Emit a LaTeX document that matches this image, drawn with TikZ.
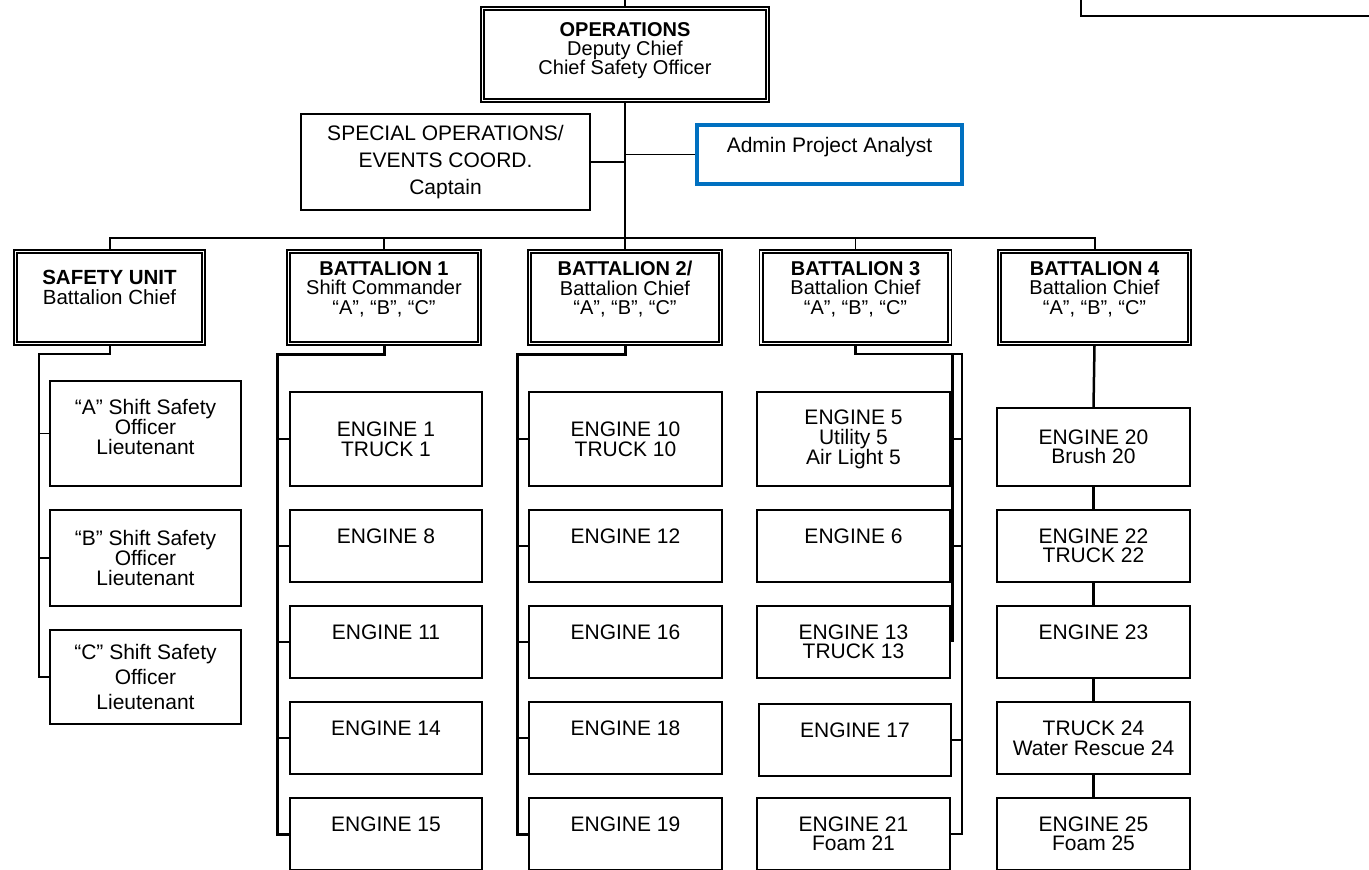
\documentclass[tikz,border=0pt]{standalone}
\usepackage{fontspec}
\setmainfont{Liberation Sans}
\newcommand\myfs{\fontsize{21}{20}\selectfont}
\definecolor{adminblue}{HTML}{0070C0}
\begin{document}
\begin{tikzpicture}[x=1pt,y=-1pt,
  cell/.style={draw, line width=1.3pt, inner sep=0pt, align=center, font=\myfs},
  hdr/.style={cell, line width=1.2pt, minimum height=95pt, font=\fontsize{20}{19.5}\selectfont},
  tick/.style={line width=1.5pt},
  lbus/.style={line width=2pt},
  lmain/.style={line width=2.5pt},
  lthick/.style={line width=3pt},
  inner/.style={line width=2pt}
]
\useasboundingbox (0,0) rectangle (1369,870);

% partial box at top right
\node[draw, line width=2pt, minimum width=400pt, minimum height=60pt, anchor=south west, inner sep=0pt] (note) at (1080,17) {};

% top level
\coordinate (top) at (625,0);
\coordinate (bus) at (0,238);
\node[hdr, minimum width=288pt, font=\fontsize{20}{19}\selectfont] (ops) at (625,54.5)
  {\textbf{OPERATIONS}\\Deputy Chief\\Chief Safety Officer\\[-7pt]\mbox{}};
\node[cell, minimum width=289pt, minimum height=96pt, font=\fontsize{21}{27}\selectfont] (spec) at (445.5,162)
  {SPECIAL OPERATIONS/\\EVENTS COORD.\\Captain};
\node[cell, draw=adminblue, line width=4pt, minimum width=265pt, minimum height=59pt] (admin) at (829.5,154.5)
  {Admin Project Analyst\\\mbox{}};

% headers
\node[hdr, minimum width=191pt, font=\fontsize{20.5}{20}\selectfont] (saf) at (109.5,297.5) {\textbf{SAFETY UNIT}\\Battalion Chief\\\mbox{}};
\node[hdr, minimum width=194pt] (bat1) at (384,297.5) {\textbf{BATTALION 1}\\Shift Commander\\“A”, “B”, “C”\\\mbox{}};
\node[hdr, minimum width=194pt] (bat2) at (625,297.5) {\textbf{BATTALION 2/}\\Battalion Chief\\“A”, “B”, “C”\\\mbox{}};
\node[hdr, minimum width=192pt] (bat3) at (855.5,297.5) {\textbf{BATTALION 3}\\Battalion Chief\\“A”, “B”, “C”\\\mbox{}};
\node[hdr, minimum width=193pt] (bat4) at (1094.5,297.5) {\textbf{BATTALION 4}\\Battalion Chief\\“A”, “B”, “C”\\\mbox{}};
\foreach \n in {ops,saf,bat1,bat2,bat3,bat4}
  \draw[inner] ([shift={(4,4)}]\n.north west) rectangle ([shift={(-4,-4)}]\n.south east);

% safety unit column
\node[cell, minimum width=191pt, minimum height=105pt, font=\fontsize{21}{20}\selectfont] (sA) at (145.5,433.5) {“A” Shift Safety\\Officer\\Lieutenant\\[-6pt]\mbox{}};
\node[cell, minimum width=191pt, minimum height=96pt] (sB) at (145.5,558) {“B” Shift Safety\\Officer\\Lieutenant};
\node[cell, minimum width=191pt, minimum height=94pt, font=\fontsize{21}{25}\selectfont] (sC) at (145.5,677) {“C” Shift Safety\\Officer\\Lieutenant};

% battalion 1 column
\node[cell, minimum width=192pt, minimum height=94pt] (b1r1) at (386,439) {ENGINE 1\\TRUCK 1};
\node[cell, minimum width=192pt, minimum height=72pt] (b1r2) at (386,546) {ENGINE 8\\\mbox{}};
\node[cell, minimum width=192pt, minimum height=72pt] (b1r3) at (386,642) {ENGINE 11\\\mbox{}};
\node[cell, minimum width=192pt, minimum height=72pt] (b1r4) at (386,738) {ENGINE 14\\\mbox{}};
\node[cell, minimum width=192pt, minimum height=72pt] (b1r5) at (386,834) {ENGINE 15\\\mbox{}};

% battalion 2 column
\node[cell, minimum width=193pt, minimum height=94pt] (b2r1) at (625.5,439) {ENGINE 10\\TRUCK 10};
\node[cell, minimum width=193pt, minimum height=72pt] (b2r2) at (625.5,546) {ENGINE 12\\\mbox{}};
\node[cell, minimum width=193pt, minimum height=72pt] (b2r3) at (625.5,642) {ENGINE 16\\\mbox{}};
\node[cell, minimum width=193pt, minimum height=72pt] (b2r4) at (625.5,738) {ENGINE 18\\\mbox{}};
\node[cell, minimum width=193pt, minimum height=72pt] (b2r5) at (625.5,834) {ENGINE 19\\\mbox{}};

% battalion 3 column
\node[cell, minimum width=193pt, minimum height=94pt] (b3r1) at (853.5,439) {ENGINE 5\\Utility 5\\Air Light 5};
\node[cell, minimum width=193pt, minimum height=72pt] (b3r2) at (853.5,546) {ENGINE 6\\\mbox{}};
\node[cell, minimum width=193pt, minimum height=72pt, font=\fontsize{21}{19}\selectfont] (b3r3) at (853.5,642) {ENGINE 13\\TRUCK 13};
\node[cell, minimum width=192pt, minimum height=72pt] (b3r4) at (855,740) {ENGINE 17\\\mbox{}};
\node[cell, minimum width=193pt, minimum height=72pt, font=\fontsize{21}{19.5}\selectfont] (b3r5) at (853.5,834) {ENGINE 21\\Foam 21};

% battalion 4 column
\node[cell, minimum width=193pt, minimum height=78pt, font=\fontsize{21}{19.5}\selectfont] (b4r1) at (1093.5,447) {ENGINE 20\\Brush 20};
\node[cell, minimum width=193pt, minimum height=72pt, font=\fontsize{21}{19}\selectfont] (b4r2) at (1093.5,546) {ENGINE 22\\TRUCK 22};
\node[cell, minimum width=193pt, minimum height=72pt] (b4r3) at (1093.5,642) {ENGINE 23\\\mbox{}};
\node[cell, minimum width=193pt, minimum height=72pt] (b4r4) at (1093.5,738) {TRUCK 24\\Water Rescue 24};
\node[cell, minimum width=193pt, minimum height=72pt, font=\fontsize{21}{19.5}\selectfont] (b4r5) at (1093.5,834) {ENGINE 25\\Foam 25};

% top connectors
\draw[lmain] (top) -- (ops.north);
\draw[lmain] (ops.south) -- (bat2.north);
\draw[tick] (spec.east) -- (spec.east -| ops.south);
\draw[tick] (admin.west) -- (admin.west -| ops.south);
\draw[lbus] (saf.north) |- (bat4.north |- bus) -- (bat4.north);
\draw[tick] (bat1.north) -- (bat1.north |- bus);
\draw[tick] (bat3.north) -- (bat3.north |- bus);

% safety bracket
\coordinate (ks) at (39,354);
\draw[lbus] (saf.south) |- (ks) |- (sC.west);
\draw[tick] (sA.west) -- (sA.west -| ks);
\draw[tick] (sB.west) -- (sB.west -| ks);

% battalion 1 bracket
\coordinate (k1) at (277,354);
\draw[lthick] (bat1.south) |- (k1) |- (b1r5.west);
\foreach \r in {b1r1,b1r2,b1r3,b1r4} \draw[tick] (\r.west) -- (\r.west -| k1);

% battalion 2 bracket
\coordinate (k2) at (517,354);
\draw[lthick] (bat2.south) |- (k2) |- (b2r5.west);
\foreach \r in {b2r1,b2r2,b2r3,b2r4} \draw[tick] (\r.west) -- (\r.west -| k2);

% battalion 3 bracket
\coordinate (k3) at (962,354);
\coordinate (k3b) at (952,354);
\draw[lmain] (bat3.south) |- (k3) |- (b3r5.east);
\draw[lthick] (k3b) -- (k3b |- b3r3.east);
\foreach \r in {b3r1,b3r2,b3r4} \draw[tick] (\r.east) -- (\r.east -| k3);

% battalion 4 chain
\draw[lmain] (bat4.south) -- (b4r1.north);
\draw[lmain] (b4r1.south) -- (b4r2.north);
\draw[lmain] (b4r2.south) -- (b4r3.north);
\draw[lmain] (b4r3.south) -- (b4r4.north);
\draw[lmain] (b4r4.south) -- (b4r5.north);
\end{tikzpicture}
\end{document}
